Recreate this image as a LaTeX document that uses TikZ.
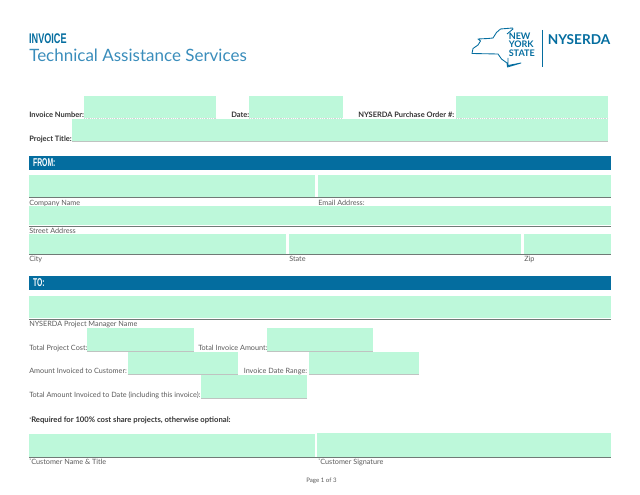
\documentclass[tikz,border=0pt]{standalone}
\usepackage{fontspec}
\setmainfont{Lato}
\newfontfamily\barfont{Liberation Sans}
\usepackage{tikz}
\definecolor{fieldgreen}{HTML}{BDF8DA}
\definecolor{barblue}{HTML}{046D9F}
\definecolor{titleblue}{HTML}{3A8DBB}
\definecolor{labelgray}{HTML}{5A5A5A}
\definecolor{rulegray}{HTML}{707A76}
\newcommand{\reqstar}{\raisebox{0.5ex}{\fontsize{3.6}{4}\selectfont *}}
\tikzset{
	fieldbox/.style={fill=fieldgreen},
	fieldrule/.style={draw=rulegray, line width=0.7pt},
	thinrule/.style={draw=rulegray!45, line width=0.35pt},
	dotrule/.style={draw=rulegray!30, line width=0.35pt, densely dotted},
	fieldlabel/.style={anchor=base west, inner sep=0pt, font=\fontsize{5.45}{7}\selectfont, text=labelgray},
	boldlabel/.style={fieldlabel, font=\fontsize{5.6}{7}\bfseries\selectfont, text=black!80},
	barlabel/.style={anchor=base west, inner sep=0pt, font=\barfont\fontsize{8.5}{10}\bfseries\selectfont, text=white, xscale=0.6, transform shape},
	logotext/.style={anchor=base west, inner sep=0pt, text=barblue, font=\fontsize{6.8}{8}\bfseries\selectfont}
}
\begin{document}
\begin{tikzpicture}[x=0.75pt, y=-0.75pt]
		\useasboundingbox (0,0) rectangle (640,495);

		\node[anchor=base west, inner sep=0pt, text=barblue, font=\barfont\fontsize{10.5}{12}\bfseries\selectfont, xscale=0.65, transform shape] (invoice) at (29,43.5) {INVOICE};
		\node[anchor=base west, inner sep=0pt, text=titleblue, font=\fontsize{12.75}{15}\selectfont] (title) at (29,62) {Technical Assistance Services};

		\draw[barblue, line width=0.65pt, line join=round] (507,34) -- (513,29) -- (512.5,28) -- (500.5,29) -- (496.5,32.5) -- (493,38) -- (488,38.5) -- (478,39) -- (480.5,41) -- (478,45) -- (473,48.5) -- (472,53.5) -- (498,54) -- (501.5,59) -- (507,63) -- (507.5,67) -- (521,63) -- (508,65.5) -- (508,58);
		\draw[barblue, line width=0.7pt] (542.5,30) -- (542.5,67);
		\node[logotext] (new) at (508.5,40) {NEW};
		\node[logotext] (york) at (508.5,48) {YORK};
		\node[logotext] (nystate) at (508.5,56.5) {STATE};
		\node[logotext, font=\fontsize{10.2}{12}\bfseries\selectfont] (nyserda) at (547.5,44.5) {NYSERDA};

		\fill[fieldbox] (84,96) rectangle (216,118);
		\fill[fieldbox] (249,96) rectangle (342.5,118);
		\fill[fieldbox] (456,96) rectangle (607.5,118);
		\fill[fieldbox] (72,119.5) rectangle (608,141.5);
		\draw[dotrule] (84,118.5) -- (216,118.5);
		\draw[dotrule] (249,118.5) -- (342.5,118.5);
		\draw[dotrule] (456,118.5) -- (607.5,118.5);
		\draw[thinrule] (72,141.5) -- (608,141.5);
		\node[boldlabel] (invoicenumber) at (29,117.7) {Invoice Number:};
		\node[boldlabel] (date) at (231,117.7) {Date:};
		\node[boldlabel] (ordernumber) at (358,117.7) {NYSERDA Purchase Order \#:};
		\node[boldlabel] (projecttitle) at (29,141.2) {Project Title:};

		\fill[barblue] (29,156) rectangle (611,170);
		\node[barlabel] (from) at (33,166.5) {FROM:};
		\fill[fieldbox] (29,175) rectangle (315,197);
		\fill[fieldbox] (317.5,175) rectangle (611,197);
		\draw[fieldrule] (29,197.5) -- (611,197.5);
		\node[fieldlabel] (company) at (29,205.5) {Company Name};
		\node[fieldlabel] (email) at (318,205.5) {Email Address:};
		\fill[fieldbox] (29,206) rectangle (611,225.5);
		\draw[fieldrule] (29,226) -- (611,226);
		\node[fieldlabel] (street) at (29,233.7) {Street Address};
		\fill[fieldbox] (29,234) rectangle (285.5,254);
		\fill[fieldbox] (289,234) rectangle (521,254);
		\fill[fieldbox] (524,234) rectangle (611,254);
		\draw[fieldrule] (29,254.5) -- (611,254.5);
		\node[fieldlabel] (city) at (29,261.8) {City};
		\node[fieldlabel] (state) at (289,261.8) {State};
		\node[fieldlabel] (zip) at (524,261.8) {Zip};

		\fill[barblue] (29,276) rectangle (611,290);
		\node[barlabel] (to) at (33,287) {TO:};
		\fill[fieldbox] (29,296) rectangle (611,318.5);
		\draw[fieldrule] (29,319) -- (611,319);
		\node[fieldlabel] (manager) at (29,326.5) {NYSERDA Project Manager Name};

		\fill[fieldbox] (87,328) rectangle (193.5,351);
		\fill[fieldbox] (267,328) rectangle (373,351);
		\fill[fieldbox] (127.5,352) rectangle (238,374);
		\fill[fieldbox] (309,352) rectangle (419,374);
		\fill[fieldbox] (201,375) rectangle (307,398);
		\draw[thinrule] (87,351) -- (193.5,351);
		\draw[thinrule] (267,351) -- (373,351);
		\draw[thinrule] (127.5,374.5) -- (238,374.5);
		\draw[thinrule] (309,374.5) -- (419,374.5);
		\draw[thinrule] (201,398) -- (307,398);
		\node[fieldlabel] (projectcost) at (29,350.5) {Total Project Cost:};
		\node[fieldlabel] (invoiceamount) at (198,350.5) {Total Invoice Amount:};
		\node[fieldlabel] (customeramount) at (29,374) {Amount Invoiced to Customer:};
		\node[fieldlabel] (daterange) at (243.5,374) {Invoice Date Range:};
		\node[fieldlabel] (totalamount) at (29,397.5) {Total Amount Invoiced to Date (including this invoice):};

		\node[boldlabel, font=\fontsize{5.75}{7}\bfseries\selectfont] (required) at (29,423) {\reqstar Required for 100\% cost share projects, otherwise optional:};
		\fill[fieldbox] (29,434.5) rectangle (315,457);
		\fill[fieldbox] (317,433.5) rectangle (611,457);
		\draw[fieldrule] (29,457.5) -- (611,457.5);
		\node[fieldlabel] (customername) at (29,464.5) {\reqstar Customer Name \& Title};
		\node[fieldlabel] (signature) at (318,464.5) {\reqstar Customer Signature};
		\node[fieldlabel, font=\fontsize{4.6}{6}\selectfont] (page) at (306,482.5) {Page 1 of 3};
\end{tikzpicture}
\end{document}
